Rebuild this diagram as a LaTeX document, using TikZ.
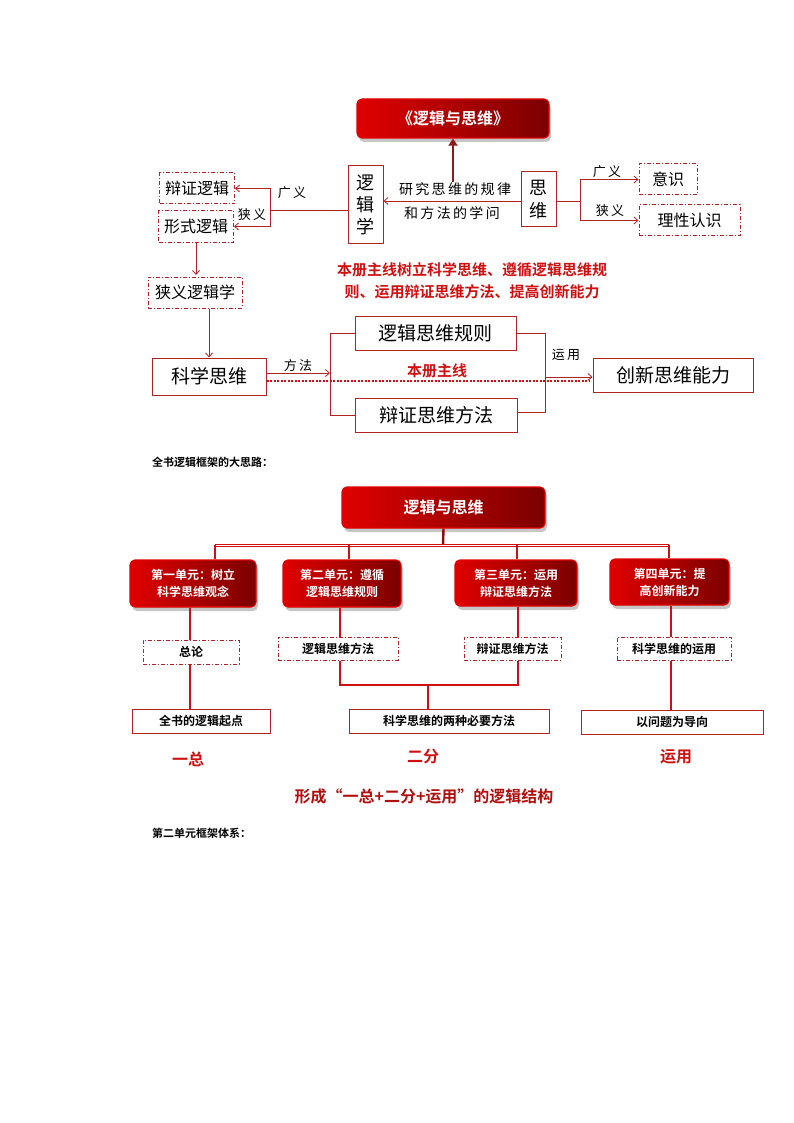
\documentclass[tikz,border=0pt]{standalone}
\usepackage{fontspec}
\setmainfont{Noto Sans CJK SC}
\newfontfamily\cjkb{Noto Sans CJK SC Bold}
\usetikzlibrary{arrows.meta,shadows}
\definecolor{dred}{HTML}{B22222}
\definecolor{bred}{HTML}{E00000}
\definecolor{tred}{HTML}{D01010}
\begin{document}
\begin{tikzpicture}[x=1pt,y=-1pt,
  redbox/.style={draw=bred,line width=1.2pt,rounded corners=5pt,left color=bred,right color=bred!55!black,text=white,font=\cjkb,drop shadow={opacity=0.45,shadow xshift=2pt,shadow yshift=-4pt},align=center,inner sep=0pt},
  plain/.style={draw=dred,line width=1pt,fill=white,inner sep=0pt,align=center},
  ddbox/.style={draw=dred,line width=1pt,dash pattern=on 4pt off 2pt on 1pt off 2pt,inner sep=0pt,align=center},
  conn/.style={dred,line width=0.8pt},
  arr/.style={dred,line width=0.8pt,-{Straight Barb[length=4pt,width=7pt]}},
  thk/.style={draw=tred,line width=2.5pt},
  lbl/.style={font=\fontsize{13}{13}\selectfont,inner sep=0pt},
  every node/.append style={font=\fontsize{14}{16}\selectfont}]
\useasboundingbox (0,0) rectangle (794,1123);
% ===== top diagram =====
\node[redbox,minimum width=192pt,minimum height=39pt,font=\cjkb\fontsize{16}{16}\selectfont] (title) at (453,118.5) {《逻辑与思维》};
\node[plain,minimum width=35pt,minimum height=77pt,font=\fontsize{18}{22}\selectfont] (ljx) at (365.5,204.5) {逻\\辑\\学};
\node[plain,minimum width=35pt,minimum height=55pt,font=\fontsize{18}{23}\selectfont] (sw) at (538.5,199.5) {思\\维};
\node[lbl,font=\fontsize{14}{14}\selectfont] (t1) at (455,189) {研\,究\,思\,维\,的\,规\,律};
\node[lbl,font=\fontsize{14}{14}\selectfont] (t2) at (452,213) {和\,方\,法\,的\,学\,问};
\coordinate (au) at (453,182);
\draw[dred!80!black,line width=2.2pt,-{Triangle[length=7pt,width=9pt]}] (au) -- (title.south);
\draw[arr] (sw.west |- 0,201) -- (ljx.east |- 0,201);
\node[ddbox,minimum width=75pt,minimum height=31pt,font=\fontsize{16}{16}\selectfont] (bz) at (197,188.5) {辩证逻辑};
\node[ddbox,minimum width=75pt,minimum height=31pt,font=\fontsize{16}{16}\selectfont] (xs) at (196,226.5) {形式逻辑};
\coordinate (lj) at (270,210);
\draw[conn] (ljx.west |- lj) -- (lj);
\draw[arr] (lj) |- (bz.east);
\draw[arr] (lj) |- (xs.east);
\node[lbl] (gy1) at (292,193) {广\,义};
\node[lbl] (xy1) at (252,215) {狭\,义};
\node[ddbox,minimum width=58pt,minimum height=31pt,font=\fontsize{16}{16}\selectfont] (yx) at (668,179.5) {意识};
\node[ddbox,minimum width=101pt,minimum height=31pt,font=\fontsize{16}{16}\selectfont] (lx) at (689.5,220.5) {理性认识};
\coordinate (rj) at (580,201);
\draw[conn] (sw.east |- rj) -- (rj);
\draw[arr] (rj) |- (yx.west);
\draw[arr] (rj) |- (lx.west);
\node[lbl] (gy2) at (607,172) {广\,义};
\node[lbl] (xy2) at (610,211) {狭\,义};
\draw[arr] (xs.south) -- (196,275);
\node[ddbox,minimum width=94pt,minimum height=31pt,font=\fontsize{16}{16}\selectfont] (xylj) at (195,292.5) {狭义逻辑学};
\node[font=\cjkb\fontsize{15}{22}\selectfont,text=tred,align=center,inner sep=0pt] (main) at (472,281) {本册主线树立科学思维、遵循逻辑思维规\\则、运用辩证思维方法、提高创新能力};
\node[plain,minimum width=114pt,minimum height=37pt,font=\fontsize{19}{19}\selectfont] (kx) at (209,376.5) {科学思维};
\draw[arr] (xylj.south -| kx.north) -- (kx.north);
\node[plain,minimum width=161pt,minimum height=34pt,font=\fontsize{19}{19}\selectfont] (ljgz) at (435.5,333) {逻辑思维规则};
\node[plain,minimum width=162pt,minimum height=34pt,font=\fontsize{19}{19}\selectfont] (bzff) at (436,415) {辩证思维方法};
\node[plain,minimum width=160pt,minimum height=34pt,font=\fontsize{19}{19}\selectfont] (cx) at (673,375) {创新思维能力};
\coordinate (lb) at (330,373);
\coordinate (rb) at (545,377);
\draw[conn] (ljgz.west) -| (330,415) -- (bzff.west);
\draw[conn] (ljgz.east) -| (545,412) -- (bzff.east |- 0,412);
\draw[arr] (kx.east |- lb) -- (lb);
\draw[arr] (rb) -- (cx.west |- rb);
\draw[tred,line width=2pt,dash pattern=on 2pt off 1.5pt] (kx.east |- 0,381) -- (590,381);
\node[lbl] (ff) at (298,366) {方\,法};
\node[lbl] (yy) at (566,355) {运\,用};
\node[font=\cjkb\fontsize{15}{15}\selectfont,text=tred,inner sep=0pt] (zx) at (437,371) {本册主线};
\node[anchor=west,font=\cjkb\fontsize{11}{11}\selectfont,inner sep=0pt] (h1) at (152,462) {全书逻辑框架的大思路：};
% ===== bottom diagram =====
\node[redbox,minimum width=203pt,minimum height=41pt,font=\cjkb\fontsize{16}{16}\selectfont] (lt) at (443.5,507.5) {逻辑与思维};
\node[redbox,minimum width=126pt,minimum height=47pt,font=\cjkb\fontsize{12}{17}\selectfont] (u1) at (193,583.5) {第一单元：树立\\科学思维观念};
\node[redbox,minimum width=118pt,minimum height=47pt,font=\cjkb\fontsize{12}{17}\selectfont] (u2) at (342,583.5) {第二单元：遵循\\逻辑思维规则};
\node[redbox,minimum width=122pt,minimum height=46pt,font=\cjkb\fontsize{12}{17}\selectfont] (u3) at (516,583) {第三单元：运用\\辩证思维方法};
\node[redbox,minimum width=119pt,minimum height=46pt,font=\cjkb\fontsize{12}{17}\selectfont] (u4) at (669.5,582) {第四单元：提\\高创新能力};
\coordinate (hb) at (443,545);
\draw[tred!70!black,line width=2.4pt] (lt.south) -- (hb);
\draw[tred,line width=3pt] (215,545) -- (669,545);
\draw[white,line width=0.6pt] (216,545) -- (668,545);
\foreach \u/\x in {u1/215,u2/349,u3/517,u4/669}{
  \draw[tred,line width=2pt] (\x,545) -- (\u.north -| \x,0);
}
\node[ddbox,minimum width=96pt,minimum height=24pt,font=\cjkb\fontsize{12}{12}\selectfont] (zl) at (191,652) {总论};
\node[ddbox,minimum width=120pt,minimum height=23pt,font=\cjkb\fontsize{12}{12}\selectfont] (ljff) at (338,648.5) {逻辑思维方法};
\node[ddbox,minimum width=97pt,minimum height=23pt,font=\cjkb\fontsize{12}{12}\selectfont] (bzff2) at (512.5,648.5) {辩证思维方法};
\node[ddbox,minimum width=114pt,minimum height=23pt,font=\cjkb\fontsize{12}{12}\selectfont] (kxyy) at (674,648.5) {科学思维的运用};
\draw[thk] (u1.south -| 190,0) -- (zl.north -| 190,0);
\draw[thk] (u2.south -| 340,0) -- (ljff.north -| 340,0);
\draw[thk] (u3.south -| 518,0) -- (bzff2.north -| 518,0);
\draw[thk] (u4.south -| 671,0) -- (kxyy.north -| 671,0);
\node[plain,minimum width=138pt,minimum height=24pt,font=\cjkb\fontsize{12}{12}\selectfont] (qs) at (201,721) {全书的逻辑起点};
\node[plain,minimum width=200pt,minimum height=24pt,font=\cjkb\fontsize{12}{12}\selectfont] (lz) at (449,721) {科学思维的两种必要方法};
\node[plain,minimum width=182pt,minimum height=24pt,font=\cjkb\fontsize{12}{12}\selectfont] (wt) at (672,722) {以问题为导向};
\draw[thk] (zl.south -| 190,0) -- (qs.north -| 190,0);
\draw[thk] (ljff.south -| 340,0) -- (340,685) -- (518,685) -- (bzff2.south -| 518,0);
\draw[thk] (428,685) -- (lz.north -| 428,0);
\draw[thk] (kxyy.south -| 671,0) -- (wt.north -| 671,0);
\node[font=\cjkb\fontsize{16}{16}\selectfont,text=tred,inner sep=0pt] (yz) at (188,759) {一总};
\node[font=\cjkb\fontsize{16}{16}\selectfont,text=tred,inner sep=0pt] (ef) at (423,757) {二分};
\node[font=\cjkb\fontsize{16}{16}\selectfont,text=tred,inner sep=0pt] (yy2) at (676,757) {运用};
\node[font=\cjkb\fontsize{16}{16}\selectfont,text=tred!85!black,inner sep=0pt] (xc) at (424,796) {形成“一总+二分+运用”的逻辑结构};
\node[anchor=west,font=\cjkb\fontsize{11}{11}\selectfont,inner sep=0pt] (h2) at (152,833) {第二单元框架体系：};
\end{tikzpicture}
\end{document}
